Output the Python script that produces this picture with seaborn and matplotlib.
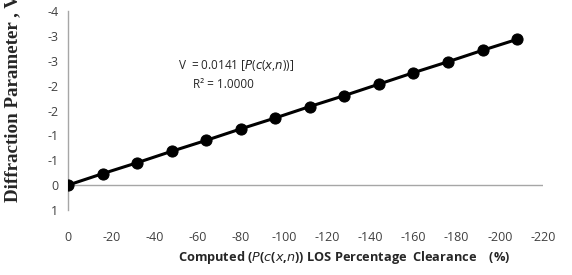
import matplotlib
matplotlib.use("Agg")
import matplotlib.pyplot as plt
import seaborn as sns
import pandas as pd

# values
clearance = [0, -16, -32, -48, -64, -80, -96, -112, -128, -144, -160, -176, -192, -208]
v_param = [0, -0.23, -0.45, -0.68, -0.90, -1.13, -1.35, -1.58, -1.80, -2.03, -2.26, -2.48, -2.71, -2.93]
x_ticks = [0, -20, -40, -60, -80, -100, -120, -140, -160, -180, -200, -220]
y_ticks = [0.5, 0, -0.5, -1, -1.5, -2, -2.5, -3, -3.5]
y_tick_labels = ["1", "0", "-1", "-1", "-2", "-2", "-3", "-3", "-4"]

df = pd.DataFrame({"clearance": clearance, "V": v_param})

sns.set_style("white")
plt.rcParams["font.family"] = ["Open Sans", "DejaVu Sans"]

fig = plt.figure(figsize=(5.72, 2.75), dpi=100)
ax = fig.add_axes([68 / 572, 1 - 210 / 275, (543 - 68) / 572, (210 - 11) / 275])

sns.lineplot(data=df, x="clearance", y="V", ax=ax, color="black", linewidth=2.2,
             marker="o", markersize=8, markeredgecolor="black", zorder=3)

ax.set_xlim(0, -220)
ax.set_ylim(0.5, -3.5)
ax.set_xticks(x_ticks)
ax.set_xticklabels([str(t) for t in x_ticks])
ax.set_yticks(y_ticks)
ax.set_yticklabels(y_tick_labels)
ax.tick_params(axis="x", length=0, pad=15, labelsize=9, colors="#404040")
ax.tick_params(axis="y", length=0, pad=7, labelsize=9, colors="#404040")

for s in ["top", "right", "bottom"]:
    ax.spines[s].set_visible(False)
ax.spines["left"].set_color("#a6a6a6")
ax.spines["left"].set_linewidth(1)
ax.axhline(0, color="#a6a6a6", linewidth=1, zorder=1)

ax.set_xlabel("")
ax.set_ylabel("")

fig.text(344 / 572, 1 - 257 / 275, r"Computed ($\mathit{P}$($\mathit{c}$($\mathit{x}$,$\mathit{n}$)) LOS Percentage  Clearance    (%)",
         ha="center", va="center", fontsize=9.2, fontweight="bold")
fig.text(13 / 572, 1 - 202 / 275, "Diffraction Parameter , V", rotation=90,
         ha="center", va="bottom", fontsize=13.7, fontweight="bold", family="Liberation Serif")

ax.text(-51, -2.4, r"V  = 0.0141 [$\mathit{P}$($\mathit{c}$($\mathit{x}$,$\mathit{n}$))]",
        ha="left", va="center", fontsize=8.5)
ax.text(-58, -2.03, "R² = 1.0000", ha="left", va="center", fontsize=8.5)

fig.savefig("out.png", dpi=100)
